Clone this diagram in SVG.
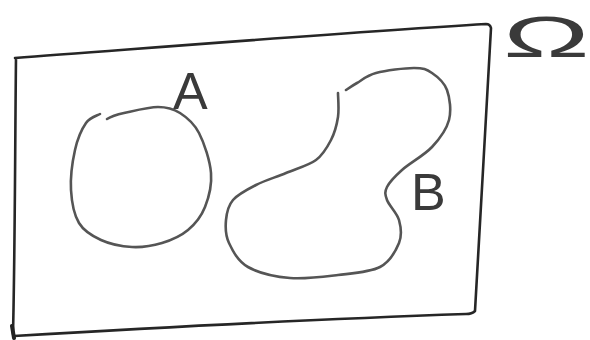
<svg xmlns="http://www.w3.org/2000/svg" width="590" height="340" viewBox="0 0 590 340">
<style>
.frame{fill:none;stroke:#262626;stroke-width:2.6;stroke-linecap:round;stroke-linejoin:round}
.blob{fill:none;stroke:#555;stroke-width:2.6;stroke-linecap:round;stroke-linejoin:round}
.lbl{font-family:"Liberation Sans",Arial,sans-serif;fill:#3a3a3a}
</style>
<rect width="590" height="340" fill="#fff"/>
<g id="omega">
<path class="frame" d="M15,58 C150,48 350,32 486,24 Q490,24 491,28 C486,120 480,220 475,311 Q472,314 466,314 C350,318 150,328 14,336 M16,58 C15,150 15,250 13,334"/>
<path d="M12,326 L14,338" stroke="#222" stroke-width="4" stroke-linecap="round"/>
<text class="lbl" transform="translate(503,57) scale(2,1)" font-size="58">Ω</text>
</g>
<g id="setA">
<path class="blob" d="M107,119 C109.8,117.2 115.5,114.8 124,113 C132.5,111.2 148.7,107 158,107 C167.3,107 173.2,108.7 180,113 C186.8,117.3 193.8,123 199,133 C204.2,143 210,160.7 211,173 C212,185.3 208.8,197.5 205,207 C201.2,216.5 195.2,224 188,230 C180.8,236 171.3,240.2 162,243 C152.7,245.8 142.2,247.5 132,247 C121.8,246.5 109.8,244 101,240 C92.2,236 84,231.3 79,223 C74,214.7 71.7,202.2 71,190 C70.3,177.8 72.5,161.2 75,150 C77.5,138.8 81.8,129 86,123 C90.2,117 97.7,115.5 100,114"/>
<text class="lbl" x="173" y="109" font-size="52">A</text>
</g>
<g id="setB">
<path class="blob" d="M346,90 C347.8,88.8 352,85.8 357,83 C362,80.2 366.5,75.5 376,73 C385.5,70.5 404.7,68 414,68 C423.3,68 426.5,69.3 432,73 C437.5,76.7 444.2,82.2 447,90 C449.8,97.8 451.5,110.5 449,120 C446.5,129.5 439.8,138.7 432,147 C424.2,155.3 409.5,163.3 402,170 C394.5,176.7 389.5,182 387,187 C384.5,192 385,194.5 387,200 C389,205.5 397,212.8 399,220 C401,227.2 402.2,235.2 399,243 C395.8,250.8 390.2,261.7 380,267 C369.8,272.3 353,273.2 338,275 C323,276.8 305,279.3 290,278 C275,276.7 258.2,272.8 248,267 C237.8,261.2 232.7,250.8 229,243 C225.3,235.2 225.3,227.2 226,220 C226.7,212.8 228,205.8 233,200 C238,194.2 247.2,189.5 256,185 C264.8,180.5 276,177.2 286,173 C296,168.8 308.5,165.5 316,160 C323.5,154.5 327.3,147.2 331,140 C334.7,132.8 336.8,124.8 338,117 C339.2,109.2 338,97 338,93"/>
<text class="lbl" x="411" y="210" font-size="52">B</text>
</g>
</svg>
